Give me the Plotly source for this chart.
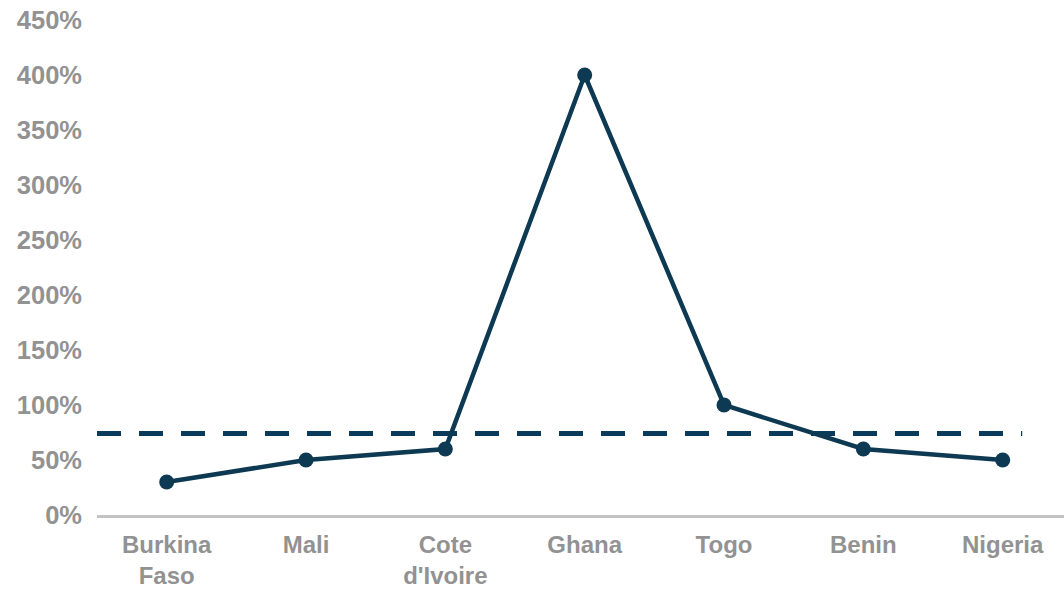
import plotly.graph_objects as go

countries = ["Burkina<br>Faso", "Mali", "Cote<br>d'Ivoire", "Ghana", "Togo", "Benin", "Nigeria"]
ratios = [0.30, 0.50, 0.60, 4.00, 1.00, 0.60, 0.50]
threshold = 0.74
y_ticks = [0, 0.5, 1.0, 1.5, 2.0, 2.5, 3.0, 3.5, 4.0, 4.5]

navy = "#0d3a52"
grey_text = "#929292"

fig = go.Figure()

fig.add_trace(go.Scatter(
    x=countries, y=ratios, mode="lines+markers",
    line=dict(color=navy, width=4.5),
    marker=dict(color=navy, size=15),
    showlegend=False, hoverinfo="skip",
))

# threshold reference line
fig.add_shape(
    type="line", xref="x", yref="y",
    x0=-0.5, x1=6.14, y0=threshold, y1=threshold,
    line=dict(color="#0b3b5a", width=5, dash="24px,18px"),
    layer="below",
)

x_font = dict(family="Liberation Sans, Arial, sans-serif", size=24,
              color=grey_text, weight="bold")
y_font = dict(family="Liberation Sans, Arial, sans-serif", size=25.5,
              color=grey_text, weight="bold")

fig.update_layout(
    width=1064, height=590,
    margin=dict(l=97, r=0, t=20, b=75),
    paper_bgcolor="white", plot_bgcolor="white",
    font=dict(family="Liberation Sans, Arial, sans-serif", size=24, color=grey_text),
)

fig.update_xaxes(
    type="category", range=[-0.5, 6.44],
    showgrid=False, zeroline=False,
    showline=True, linecolor="#c3c3c3", linewidth=3,
    ticks="", ticklabelstandoff=6, tickfont=x_font,
)

fig.update_yaxes(
    range=[0, 4.5], tickvals=y_ticks, tickformat=".0%",
    showgrid=False, zeroline=False, showline=False,
    ticks="", ticklabelstandoff=14,
    tickfont=y_font,
)

fig.write_html("out.html")
